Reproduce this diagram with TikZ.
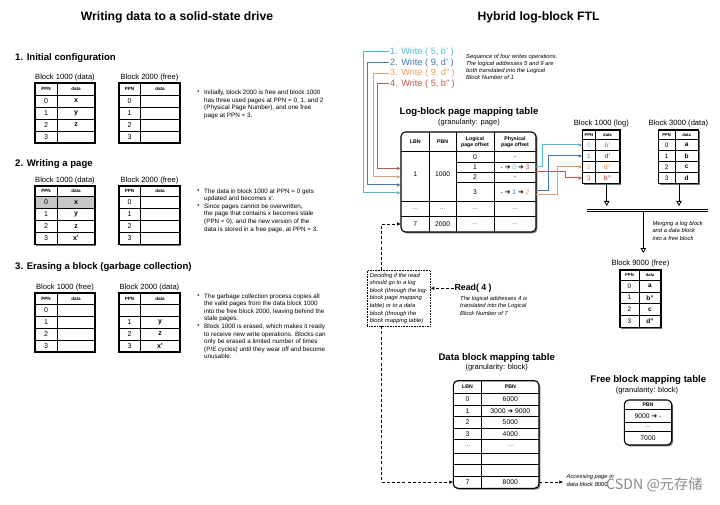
\documentclass[tikz,border=0pt]{standalone}
\usepackage{fontspec}
\setmainfont{Liberation Sans}
\newfontfamily\dejavu{DejaVu Sans}
\newfontfamily\cjkfont{Noto Sans CJK SC}
\usetikzlibrary{arrows.meta,shadows}
\definecolor{cW}{RGB}{84,188,210}
\definecolor{bW}{RGB}{66,120,180}
\definecolor{oW}{RGB}{238,160,100}
\definecolor{rW}{RGB}{192,88,78}
\newcommand{\fsz}[2]{\fontsize{#1}{#2}\selectfont}
\newcommand{\harr}{{\dejavu ➔}}
\newcommand{\dotsg}{\textcolor{black!60}{...}}
\let\blkhook\relax
\def\blkloff{-3.8}
% name, x, y, width, ppn width, header h, row h, title, rows
\newcommand{\ppnblock}[9]{%
 \begin{scope}[shift={(#2,#3)}]
  \node[blkframe, minimum width={#4pt}, minimum height={(#6+4*#7)*1pt}, anchor=north west] (#1) at (0,0) {};
  \blkhook
  \foreach \k in {1,2,3} {\draw[gridline] (0,{#6+\k*#7}) -- (#4,{#6+\k*#7});}
  \draw[gridline] (0,#6) -- (#4,#6);
  \draw[gridline] (#5,0) -- (#5,{#6+4*#7});
  \node[blkhead] at ({#5/2},{#6/2}) {PPN};
  \node[blkhead] at ({(#4+#5)/2},{#6/2}) {data};
  \foreach \cellA/\cellB [count=\i from 0] in {#9} {
    \node[blkcell] at ({#5/2},{#6+(\i+0.5)*#7}) {\cellA};
    \node[blkdata] at ({(#4+#5)/2},{#6+(\i+0.5)*#7}) {\cellB};
  }
  \draw[blkborder] (0,0) rectangle (#4,{#6+4*#7});
  \node[blklabel, anchor=base] at ({#4/2},\blkloff) {#8};
 \end{scope}}

\begin{document}
\begin{tikzpicture}[x=1pt,y=-1pt,
  every node/.style={inner sep=0pt},
  sechead/.style={font=\bfseries\fsz{9.6}{11}, anchor=west},
  bigtitle/.style={font=\bfseries\fsz{12.2}{14}},
  note/.style={font=\fsz{6.3}{7.55}, align=left, anchor=north west},
  inote/.style={font=\itshape\fsz{5.8}{7.3}, align=left},
  bul/.style={font=\fsz{6}{7}},
  blkframe/.style={fill=white, drop shadow={shadow xshift=1.2pt, shadow yshift=-1.2pt, opacity=0.55, fill=black}},
  blkborder/.style={draw=black, line width=1.1pt},
  gridline/.style={draw=black, line width=0.5pt},
  blkhead/.style={font=\bfseries\fsz{4.6}{5}},
  blkcell/.style={font=\fsz{7}{8}},
  blkdata/.style={font=\bfseries\fsz{7}{8}},
  blklabel/.style={font=\fsz{7.6}{8}},
  tblhead/.style={font=\bfseries\fsz{9.6}{11}},
  gran/.style={font=\fsz{7.5}{8}},
  mhead/.style={font=\bfseries\fsz{5.2}{6}, align=center},
  mcell/.style={font=\fsz{6.8}{8}},
  wr/.style={font=\fsz{9.2}{10}, anchor=west},
  colarr/.style={line width=1pt, -{Latex[length=4pt,width=3.6pt]}},
  dashline/.style={line width=0.8pt, dash pattern=on 3pt off 2.2pt, -{Latex[length=4pt,width=3.6pt]}},
  mergearr/.style={line width=0.8pt, -{Triangle[open,length=5pt,width=5.5pt]}},
  decbox/.style={draw, densely dotted, line width=0.6pt, font=\itshape\fsz{5.8}{7.6}, align=left, inner sep=1.5pt, minimum width=62.7pt, minimum height=55.3pt},
]
\fill[white] (0,0) rectangle (720,505);
\useasboundingbox (0,0) rectangle (720,505);

%================ LEFT HALF ================
\node[bigtitle] (ltitle) at (177,17.3) {Writing data to a solid-state drive};

% --- 1
\node[sechead] (h1) at (15,58) {1. Initial configuration};
\ppnblock{s1a}{35}{83}{60}{22}{12}{12}{Block 1000 (data)}{0/x,1/y,2/z,3/{}}
\ppnblock{s1b}{119}{83}{61}{21}{12}{12}{Block 2000 (free)}{0/{},1/{},2/{},3/{}}
\node[bul] (b1a) at (198.5,92) {•};
\node[note] (n1) at (204,89.8) {Initially, block 2000 is free and block 1000\\has three used pages at PPN = 0, 1, and 2\\(Physical Page Number), and one free\\page at PPN = 3.};

% --- 2
\node[sechead] (h2) at (15,164) {2. Writing a page};
\def\blkhook{\fill[black!22] (0,10.5) rectangle (60,22.5);}
\ppnblock{s2a}{35}{186}{60}{22}{10.5}{12}{Block 1000 (data)}{0/x,1/y,2/z,3/x'}
\let\blkhook\relax
\ppnblock{s2b}{119}{186}{61}{21}{10.5}{12}{Block 2000 (free)}{0/{},1/{},2/{},3/{}}
\node[bul] (b2a) at (198.5,190.7) {•};
\node[bul] (b2b) at (198.5,205.8) {•};
\node[note] (n2) at (204,188.5) {The data in block 1000 at PPN = 0 gets\\updated and becomes x'.\\Since pages cannot be overwritten,\\the page that contains x becomes stale\\(PPN = 0), and the new version of the\\data is stored in a free page, at PPN = 3.};

% --- 3
\node[sechead] (h3) at (15,267.5) {3. Erasing a block (garbage collection)};
\ppnblock{s3a}{35}{293}{60}{22}{11}{12}{Block 1000 (free)}{0/{},1/{},2/{},3/{}}
\ppnblock{s3b}{119}{293}{61}{21}{11}{12}{Block 2000 (data)}{{}/{},1/y,2/z,3/x'}
\node[bul] (b3a) at (198.5,295.7) {•};
\node[bul] (b3b) at (198.5,325.9) {•};
\node[note] (n3) at (204,293.5) {The garbage collection process copies all\\the valid pages from the data block 1000\\into the free block 2000, leaving behind the\\stale pages.\\Block 1000 is erased, which makes it ready\\to receive new write operations. Blocks can\\only be erased a limited number of times\\(P/E cycles) until they wear off and become\\unusable.};

%================ RIGHT HALF ================
\node[bigtitle] (rtitle) at (538.5,17.3) {Hybrid log-block FTL};

% writes
\node[wr,text=cW] (w1) at (390,51.7) {1. Write ( 5, b' )};
\node[wr,text=bW] (w2) at (390,62.7) {2. Write ( 9, d' )};
\node[wr,text=oW] (w3) at (390,73.3) {3. Write ( 9, d'' )};
\node[wr,text=rW] (w4) at (390,84) {4. Write ( 5, b'' )};
\node[inote, anchor=north west] (seqnote) at (466,53.6) {Sequence of four writes operations.\\The logical addresses 5 and 9 are\\both translated into the Logical\\Block Number of 1};

% log-block page mapping table
\node[tblhead] (lbttitle) at (469,112.3) {Log-block page mapping table};
\node[gran] (lbtgran) at (469,122.3) {(granularity: page)};
\node[blkframe, rounded corners=4.5pt, minimum width=135pt, minimum height=100pt, anchor=north west] (lbt) at (401,132) {};
\draw[gridline] (429.3,132) -- (429.3,232) (456,132) -- (456,232) (494,132) -- (494,232);
\draw[gridline] (401,151.7) -- (536,151.7) (401,201.7) -- (536,201.7) (401,216) -- (536,216);
\draw[gridline] (456,162.5) -- (536,162.5) (456,172.5) -- (536,172.5) (456,182.5) -- (536,182.5);
\draw[blkborder, rounded corners=4.5pt] (401,132) rectangle (536,232);
\node[mhead] at (415.2,141.8) {LBN};
\node[mhead] at (442.7,141.8) {PBN};
\node[mhead] at (475,141.8) {Logical\\page offset};
\node[mhead] at (515,141.8) {Physical\\page offset};
\node[mcell] at (415.2,174) {1};
\node[mcell] at (442.7,174) {1000};
\node[mcell] at (475,157.1) {0};
\node[mcell] at (475,167.5) {1};
\node[mcell] at (475,177.5) {2};
\node[mcell] at (475,192.1) {3};
\node[mcell] at (515,157.1) {-};
\node[mcell] at (515,167.5) {- \harr{} \textcolor{cW}{0} \harr{} \textcolor{rW}{3}};
\node[mcell] at (515,177.5) {-};
\node[mcell] at (515,192.1) {- \harr{} \textcolor{bW}{1} \harr{} \textcolor{oW}{2}};
\node[mcell] at (415.2,208.8) {\dotsg};
\node[mcell] at (442.7,208.8) {\dotsg};
\node[mcell] at (475,208.8) {\dotsg};
\node[mcell] at (515,208.8) {\dotsg};
\node[mcell] at (415.2,224) {7};
\node[mcell] at (442.7,224) {2000};
\node[mcell] at (475,224) {\dotsg};
\node[mcell] at (515,224) {\dotsg};

% entry points of write arrows
\coordinate (e1) at (401,193);
\coordinate (e2) at (401,185);
\coordinate (e3) at (401,177);
\coordinate (e4) at (401,168.5);
\draw[colarr,cW] ([xshift=-1.5pt]w1.west) -- ++(-25.2,0) |- (e1);
\draw[colarr,bW] ([xshift=-1.5pt]w2.west) -- ++(-20.8,0) |- (e2);
\draw[colarr,oW] ([xshift=-1.5pt]w3.west) -- ++(-15.2,0) |- (e3);
\draw[colarr,rW] ([xshift=-1.5pt]w4.west) -- ++(-10.8,0) |- (e4);

% blocks on the right
\begin{scope}[blkcell/.style={font=\fsz{6.5}{7}}, blkdata/.style={font=\bfseries\fsz{6.5}{7}}, blkhead/.style={font=\bfseries\fsz{4.2}{5}}]
\def\blkloff{-4.6}
\ppnblock{blog}{582.7}{130}{37.3}{12.3}{9.5}{11}{Block 1000 (log)}{\textcolor{cW}{0}/\textcolor{cW}{b'},\textcolor{bW}{1}/\textcolor{bW}{d'},\textcolor{oW}{2}/\textcolor{oW}{d''},\textcolor{rW}{3}/\textcolor{rW}{b''}}
\ppnblock{b3000}{658.3}{130}{40}{16.7}{9.5}{11}{Block 3000 (data)}{0/a,1/b,2/c,3/d}
\ppnblock{b9000}{620}{270}{41}{19}{10}{11.8}{Block 9000 (free)}{0/a,1/b'',2/c,3/d''}
\end{scope}

% physical offset -> log block arrows
\coordinate (x1c) at (536,166.7);
\coordinate (x1r) at (536,171.2);
\coordinate (x3b) at (536,190.5);
\coordinate (x3o) at (536,194.5);
\coordinate (g0) at (582.7,145);
\coordinate (g1) at (582.7,156);
\coordinate (g2) at (582.7,167);
\coordinate (g3) at (582.7,178);
\draw[colarr,cW] (x1c) -- ++(6.7,0) |- (g0);
\draw[colarr,rW] (x1r) -- ++(29,0) |- (g3);
\draw[colarr,bW] (x3b) -- ++(12,0) |- (g1);
\draw[colarr,oW] (x3o) -- ++(21.5,0) |- (g2);

% merge
\coordinate (m1) at (606.7,206);
\coordinate (m2) at (679,206);
\coordinate (m3) at (643.3,211.5);
\coordinate (m4) at (643.3,253);
\draw[mergearr] (blog.south -| m1) -- (m1);
\draw[mergearr] (b3000.south -| m2) -- (m2);
\draw[line width=0.7pt] (586.7,209) -- (708.3,209) (586.7,211.5) -- (708.3,211.5);
\draw[mergearr] (m3) -- (m4);
\node[inote, anchor=north west] (mnote) at (652.3,221) {Merging a log block\\and a data block\\into a free block};

% read path
\coordinate (dvx) at (381.5,0);
\coordinate (r7) at (401,224);
\coordinate (d7) at (453.3,482.1);
\coordinate (acc) at (563.3,482.1);
\node[decbox] (decide) at (398.7,298.3) {Deciding if the read\\should go to a log\\block (through the log-\\block page mapping\\table) or to a data\\block (through the\\block mapping table)};
\node[font=\bfseries\fsz{8.8}{10}, anchor=west] (read) at (454.3,288.3) {Read( 4 )};
\node[inote, anchor=north west] (readnote) at (460,296.2) {The logical addresses 4 is\\translated into the Logical\\Block Number of 7};
\draw[dashline] (read.west) -- (decide.east |- read.west);
\draw[dashline] (decide.north -| dvx) |- (r7);
\draw[dashline] (decide.south -| dvx) |- (d7);

% data block mapping table
\node[tblhead] (dttitle) at (496.7,358.2) {Data block mapping table};
\node[gran] (dtgran) at (496.7,367.6) {(granularity: block)};
\node[blkframe, rounded corners=4.5pt, minimum width=85.7pt, minimum height=107.6pt, anchor=north west] (dtab) at (453.3,380.7) {};
\draw[gridline] (481.7,380.7) -- (481.7,488.3);
\foreach \yy in {393.5,405,416.5,428,439.5,453,464.5,476} {\draw[gridline] (453.3,\yy) -- (539,\yy);}
\draw[blkborder, rounded corners=4.5pt] (453.3,380.7) rectangle (539,488.3);
\node[mhead] at (467.5,387.1) {LBN};
\node[mhead] at (510.3,387.1) {PBN};
\foreach \la/\pb/\yy in {0/6000/399.2, 1/{3000 \harr{} 9000}/410.7, 2/5000/422.2, 3/4000/433.7, \dotsg/\dotsg/446.2, 7/8000/482.1} {
  \node[mcell] at (467.5,\yy) {\la};
  \node[mcell] at (510.3,\yy) {\pb};
}
\draw[dashline] (dtab.east |- d7) -- (acc);
\node[inote, anchor=west] (accnote) at (566.5,480.3) {Accessing page in\\data block 8000};

% free block mapping table
\node[tblhead] (fttitle) at (648.3,380.3) {Free block mapping table};
\node[gran] (ftgran) at (647,390.5) {(granularity: block)};
\node[blkframe, rounded corners=4.5pt, minimum width=47.4pt, minimum height=45pt, anchor=north west] (ftab) at (624.3,400) {};
\draw[gridline] (624.3,409.5) -- (671.7,409.5) (624.3,422) -- (671.7,422) (624.3,431.5) -- (671.7,431.5);
\draw[blkborder, rounded corners=4.5pt] (624.3,400) rectangle (671.7,445);
\node[mhead] at (648,404.8) {PBN};
\node[mcell] at (648,415.8) {9000 \harr{} -};
\node[mcell] at (648,426.7) {\dotsg};
\node[mcell] at (648,438.3) {7000};

% watermark
\node[font=\cjkfont\fsz{14.2}{15}, text=black!45, anchor=west] (wm) at (606,485) {CSDN @元存储};
\end{tikzpicture}
\end{document}
